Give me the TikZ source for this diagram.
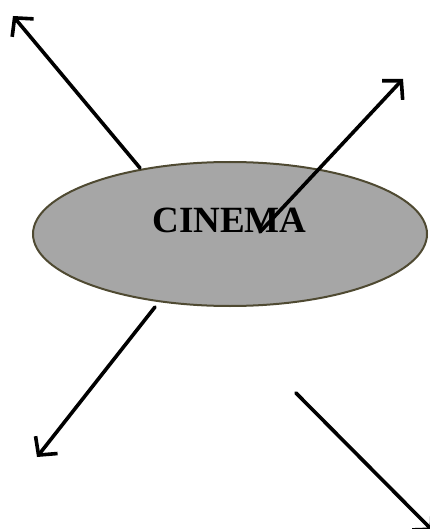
\documentclass[tikz,border=0pt]{standalone}
\usepackage{fontspec}
\setmainfont{Liberation Serif}
\usepackage{xcolor}
\usepackage{tikz}
\usetikzlibrary{arrows.meta,positioning,shapes.geometric}
\definecolor{hubfill}{HTML}{A6A6A6}
\definecolor{hubline}{HTML}{4F4A32}
\tikzset{
    hubnode/.style={
        ellipse, draw=hubline, fill=hubfill, line width=2pt,
        minimum width=394pt, minimum height=144pt, inner sep=0pt},
    hubtitle/.style={
        font=\fontsize{37}{44}\selectfont\bfseries, inner sep=0pt},
    spoke/.style={
        -{Straight Barb[length=13pt, width=28pt, line width=3.6pt]},
        line width=3.6pt, line cap=round},
}

\begin{document}
\begin{tikzpicture}[x=1pt, y=-1pt]

    \useasboundingbox (0,0) rectangle (430,529);

    % --- Central ellipse ------------------------------------------------------
    \node[hubnode] (cinema) at (230,234) {};
    \node[hubtitle, anchor=base] (title) at (229.5,232) {CINEMA};

    % --- Spoke ends ---------------------------------------------------------------
    \coordinate (nwfrom) at (140,168);
    \coordinate (nwto) at (13,16);
    \coordinate (nefrom) at (260,232);
    \coordinate (neto) at (403,79);
    \coordinate (swfrom) at (155,307);
    \coordinate (swto) at (37,457);
    \coordinate (sefrom) at (296,393);
    \coordinate (seto) at (433,531);

    % --- Spokes -------------------------------------------------------------------
    \draw[spoke] (nwfrom) -- (nwto);
    \draw[spoke] (nefrom) -- (neto);
    \draw[spoke] (swfrom) -- (swto);
    \draw[spoke] (sefrom) -- (seto);

\end{tikzpicture}
\end{document}
